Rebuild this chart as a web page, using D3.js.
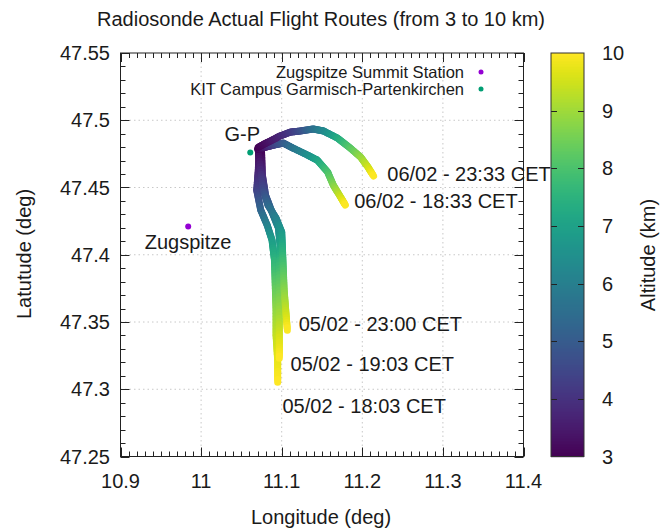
<!DOCTYPE html>
<html><head><meta charset="utf-8">
<script src="https://cdn.jsdelivr.net/npm/d3@7"></script>
<style>body{margin:0;background:#fff}svg{display:block}text{font-family:"Liberation Sans",Arial,sans-serif;fill:#1a1a1a}</style>
</head><body><svg id="c" width="670" height="530"></svg>
<script>
// ---- data ----
const flightNames = ["05/02 - 18:03 CET","05/02 - 19:03 CET","05/02 - 23:00 CET","06/02 - 18:33 CET","06/02 - 23:33 CET"];
const flight1803Lon = [11.072,11.071,11.069,11.074,11.082,11.088,11.091,11.092,11.093,11.093,11.095,11.095];
const flight1803Lat = [47.4778,47.463,47.4481,47.4332,47.422,47.4109,47.396,47.3774,47.3588,47.3402,47.3216,47.3052];
const flight1803Alt = [3.0,3.6,4.3,5.2,6.0,6.8,7.5,8.2,8.8,9.3,9.7,10.0];
const flight1903Lon = [11.075,11.076,11.080,11.088,11.096,11.098,11.097,11.097,11.097,11.097,11.097];
const flight1903Lat = [47.4763,47.4592,47.4443,47.4317,47.4198,47.4071,47.3923,47.3737,47.3551,47.3365,47.3231];
const flight1903Alt = [3.0,3.8,4.7,5.5,6.3,7.0,7.7,8.4,9.0,9.6,10.0];
const flight2300Lon = [11.071,11.074,11.077,11.083,11.093,11.100,11.101,11.102,11.103,11.105,11.107];
const flight2300Lat = [47.4778,47.4615,47.4481,47.4369,47.4272,47.4168,47.4034,47.3885,47.3737,47.3588,47.3439];
const flight2300Alt = [3.0,3.8,4.5,5.3,6.0,6.7,7.4,8.1,8.7,9.3,10.0];
const flight0618Lon = [11.070,11.080,11.090,11.102,11.114,11.132,11.144,11.157,11.164,11.173,11.179];
const flight0618Lat = [47.4785,47.480,47.4815,47.483,47.4793,47.4741,47.4704,47.4615,47.4518,47.4429,47.4369];
const flight0618Alt = [3.0,3.5,4.2,4.9,5.6,6.4,7.0,7.9,8.6,9.4,10.0];
const flight0623Lon = [11.071,11.083,11.098,11.111,11.123,11.139,11.152,11.169,11.185,11.198,11.207,11.214];
const flight0623Lat = [47.480,47.4838,47.4883,47.4912,47.492,47.4935,47.4920,47.4868,47.4793,47.4726,47.4652,47.4585];
const flight0623Alt = [3.0,3.3,3.7,4.1,4.6,5.5,6.2,7.2,8.1,8.8,9.4,10.0];
const stationNames = ["Zugspitze Summit Station","KIT Campus Garmisch-Partenkirchen"];
const stationLon = [10.984,11.061];
const stationLat = [47.421,47.476];
const stationLabels = ["Zugspitze","G-P"];
const stationLabelLon = [10.930,11.029];
const stationLabelLat = [47.410,47.490];
const flightLabelLon = [11.101,11.111,11.121,11.190,11.231];
const flightLabelLat = [47.288,47.319,47.349,47.440,47.460];
const xTicks = [10.9,11,11.1,11.2,11.3,11.4];
const yTicks = [47.25,47.3,47.35,47.4,47.45,47.5,47.55];
const cbTicks = [3,4,5,6,7,8,9,10];

const flights = [
  {lon:flight1803Lon,lat:flight1803Lat,alt:flight1803Alt},
  {lon:flight1903Lon,lat:flight1903Lat,alt:flight1903Alt},
  {lon:flight2300Lon,lat:flight2300Lat,alt:flight2300Alt},
  {lon:flight0618Lon,lat:flight0618Lat,alt:flight0618Alt},
  {lon:flight0623Lon,lat:flight0623Lat,alt:flight0623Alt}
];

// ---- layout ----
const svg = d3.select("#c");
const L=120.5, R=523.5, T=53, B=456.5;
const x = d3.scaleLinear().domain([10.9,11.4]).range([L,R]);
const y = d3.scaleLinear().domain([47.25,47.55]).range([B,T]);
const color = d3.scaleSequential(d3.interpolateViridis).domain([3,10]);

// grid
const g = svg.append("g");
xTicks.slice(1,-1).forEach(v=>g.append("line").attr("x1",x(v)).attr("x2",x(v)).attr("y1",T).attr("y2",B)
  .attr("stroke","#c8c8c8").attr("stroke-width",1).attr("stroke-dasharray","1.5,3"));
yTicks.slice(1,-1).forEach(v=>g.append("line").attr("y1",y(v)).attr("y2",y(v)).attr("x1",L).attr("x2",R)
  .attr("stroke","#c8c8c8").attr("stroke-width",1).attr("stroke-dasharray","1.5,3"));

// ticks (all four sides, inward)
const minorX = d3.range(0,51).map(i=>10.9+i*0.01);
const minorY = d3.range(0,31).map(i=>47.25+i*0.01);
const tk = svg.append("g").attr("stroke","#222").attr("stroke-width",1);
minorX.forEach((v,i)=>{const len = (i%10===0)?9:5; const px=Math.round(x(v))+0.5;
  tk.append("line").attr("x1",px).attr("x2",px).attr("y1",B).attr("y2",B-len);
  tk.append("line").attr("x1",px).attr("x2",px).attr("y1",T).attr("y2",T+len);});
minorY.forEach((v,i)=>{const len = (i%5===0)?9:5; const py=Math.round(y(v))+0.5;
  tk.append("line").attr("y1",py).attr("y2",py).attr("x1",L).attr("x2",L+len);
  tk.append("line").attr("y1",py).attr("y2",py).attr("x1",R).attr("x2",R-len);});

// tick labels
xTicks.forEach(v=>svg.append("text").attr("x",x(v)).attr("y",488).attr("text-anchor","middle")
  .attr("font-size",20).text(+v.toFixed(2)));
yTicks.forEach(v=>svg.append("text").attr("x",110).attr("y",y(v)).attr("dy","0.36em").attr("text-anchor","end")
  .attr("font-size",20).text(+v.toFixed(2)));

// trajectories
const traj = svg.append("g").attr("stroke-linecap","round").attr("fill","none");
flights.forEach(f=>{
  for(let i=0;i<f.lon.length-1;i++){
    const n=8;
    for(let k=0;k<n;k++){
      const t0=k/n, t1=(k+1)/n;
      const lo0=f.lon[i]+(f.lon[i+1]-f.lon[i])*t0, la0=f.lat[i]+(f.lat[i+1]-f.lat[i])*t0;
      const lo1=f.lon[i]+(f.lon[i+1]-f.lon[i])*t1, la1=f.lat[i]+(f.lat[i+1]-f.lat[i])*t1;
      const a=f.alt[i]+(f.alt[i+1]-f.alt[i])*(t0+t1)/2;
      traj.append("line").attr("x1",x(lo0)).attr("y1",y(la0)).attr("x2",x(lo1)).attr("y2",y(la1))
        .attr("stroke",color(a)).attr("stroke-width",7);
    }
  }
});

// frame
svg.append("rect").attr("x",L).attr("y",T).attr("width",R-L).attr("height",B-T)
  .attr("fill","none").attr("stroke","#222").attr("stroke-width",1);

// stations
const stColors = ["#9400d3","#009e73"];
stationLon.forEach((v,i)=>svg.append("circle").attr("cx",x(v)).attr("cy",y(stationLat[i])).attr("r",3).attr("fill",stColors[i]));
stationLabels.forEach((s,i)=>svg.append("text").attr("x",x(stationLabelLon[i])).attr("y",y(stationLabelLat[i]))
  .attr("dy","0.36em").attr("font-size",20).text(s));
flightNames.forEach((s,i)=>svg.append("text").attr("x",x(flightLabelLon[i])).attr("y",y(flightLabelLat[i]))
  .attr("dy","0.36em").attr("font-size",20).text(s));

// legend
stationNames.forEach((s,i)=>{
  const yy = 72 + i*17;
  svg.append("text").attr("x",464).attr("y",yy).attr("dy","0.36em").attr("text-anchor","end").attr("font-size",16.5).text(s);
  svg.append("circle").attr("cx",481).attr("cy",yy).attr("r",2.5).attr("fill",stColors[i]);
});

// colorbar
const cbL=551, cbR=584, cbT=53, cbB=456.5;
const cy = d3.scaleLinear().domain([3,10]).range([cbB,cbT]);
const cb = svg.append("g");
for(let p=cbT;p<cbB;p+=1){
  cb.append("rect").attr("x",cbL).attr("y",p).attr("width",cbR-cbL).attr("height",1.2).attr("fill",color(cy.invert(p+0.5)));
}
cbTicks.forEach(v=>{
  const py=Math.round(cy(v))+0.5;
  if(v>3&&v<10){
    cb.append("line").attr("x1",cbL).attr("x2",cbL+6).attr("y1",py).attr("y2",py).attr("stroke","#222");
    cb.append("line").attr("x1",cbR).attr("x2",cbR-6).attr("y1",py).attr("y2",py).attr("stroke","#222");
  }
  cb.append("text").attr("x",602).attr("y",cy(v)).attr("dy","0.36em").attr("font-size",20).text(v);
});
cb.append("rect").attr("x",cbL).attr("y",cbT).attr("width",cbR-cbL).attr("height",cbB-cbT)
  .attr("fill","none").attr("stroke","#333").attr("stroke-width",1);

// titles
svg.append("text").attr("x",321).attr("y",26).attr("text-anchor","middle").attr("font-size",20)
  .text("Radiosonde Actual Flight Routes (from 3 to 10 km)");
svg.append("text").attr("x",321).attr("y",524).attr("text-anchor","middle").attr("font-size",20).text("Longitude (deg)");
svg.append("text").attr("transform","translate(31,254) rotate(-90)").attr("text-anchor","middle").attr("font-size",20).text("Latutude (deg)");
svg.append("text").attr("transform","translate(655,255) rotate(-90)").attr("text-anchor","middle").attr("font-size",20).text("Altitude (km)");
</script></body></html>
